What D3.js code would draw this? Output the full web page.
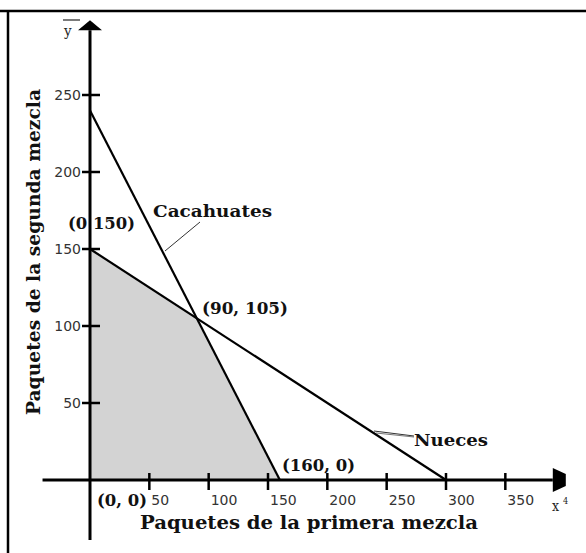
<!DOCTYPE html>
<html><head><meta charset="utf-8">
<script src="https://cdn.jsdelivr.net/npm/d3@7"></script>
<style>body{margin:0;background:#fff}svg{display:block}</style>
</head><body><svg id="c" width="586" height="553"></svg>
<script>
// ---- data ----
const xTicks = [50, 100, 150, 200, 250, 300, 350];
const yTicks = [50, 100, 150, 200, 250];
const cacahuates = [[0, 240], [160, 0]];
const nueces = [[0, 150], [300, 0]];
const feasible = [[0, 0], [0, 150], [90, 105], [160, 0]];
const pointLabels = [
  {text: "(0 150)", at: [0, 150]},
  {text: "(90, 105)", at: [90, 105]},
  {text: "(160, 0)", at: [160, 0]},
  {text: "(0, 0)", at: [0, 0]}
];
const lineNames = ["Cacahuates", "Nueces"];
const xTitle = "Paquetes de la primera mezcla";
const yTitle = "Paquetes de la segunda mezcla";

// ---- scales ----
const x = d3.scaleLinear().domain([0, 300]).range([90, 446]);
const y = d3.scaleLinear().domain([0, 250]).range([480, 95]);
const svg = d3.select("#c");
const serif = "'DejaVu Serif Condensed', 'DejaVu Serif', 'Liberation Serif', serif";

// frame (top and left)
svg.append("line").attr("x1", 0).attr("x2", 586).attr("y1", 11).attr("y2", 11).attr("stroke", "#000").attr("stroke-width", 2.5);
svg.append("line").attr("x1", 8).attr("x2", 8).attr("y1", 10).attr("y2", 553).attr("stroke", "#000").attr("stroke-width", 2.5);

// feasible region
svg.append("path").datum(feasible)
  .attr("d", d3.line().x(d => x(d[0])).y(d => y(d[1])).curve(d3.curveLinearClosed))
  .attr("fill", "#d3d3d3");

// axes lines
const ax = svg.append("g").attr("stroke", "#000");
ax.append("line").attr("x1", x(-40)).attr("x2", x(390)).attr("y1", y(0)).attr("y2", y(0)).attr("stroke-width", 3);
ax.append("line").attr("x1", x(0)).attr("x2", x(0)).attr("y1", y(-39)).attr("y2", y(292)).attr("stroke-width", 3);
// arrows
svg.append("path").attr("d", `M${x(0)-12},${y(292)} L${x(0)+12},${y(292)} L${x(0)},${y(292)-10} Z`).attr("fill", "#000");
svg.append("path").attr("d", `M${x(390)},${y(0)-12} L${x(390)+13},${y(0)-6} L${x(390)+13},${y(0)+6} L${x(390)},${y(0)+12} Z`).attr("fill", "#000");

// ticks
svg.append("g").selectAll("line").data(xTicks).join("line")
  .attr("x1", d => x(d)).attr("x2", d => x(d)).attr("y1", y(0) - 7).attr("y2", y(0) + 10)
  .attr("stroke", "#000").attr("stroke-width", 2.5);
svg.append("g").selectAll("line").data(yTicks).join("line")
  .attr("y1", d => y(d)).attr("y2", d => y(d)).attr("x1", x(0) - 8).attr("x2", x(0) + 10)
  .attr("stroke", "#000").attr("stroke-width", 2.5);

// tick labels
svg.append("g").selectAll("text").data(xTicks).join("text")
  .attr("x", d => x(d) + 2).attr("y", y(0) + 25)
  .attr("font-family", "'DejaVu Sans', sans-serif").attr("font-size", 14).attr("fill", "#333")
  .text(d => d);
svg.append("g").selectAll("text").data(yTicks).join("text")
  .attr("x", x(0) - 9).attr("y", d => y(d) + 5).attr("text-anchor", "end")
  .attr("font-family", "'DejaVu Sans', sans-serif").attr("font-size", 14).attr("fill", "#333")
  .text(d => d);

// constraint lines
const ln = d3.line().x(d => x(d[0])).y(d => y(d[1]));
[cacahuates, nueces].forEach(s => svg.append("path").datum(s).attr("d", ln)
  .attr("fill", "none").attr("stroke", "#000").attr("stroke-width", 2.2));

// leader lines
svg.append("line").attr("x1", 165).attr("y1", 251).attr("x2", 200).attr("y2", 222).attr("stroke", "#333").attr("stroke-width", 1);
svg.append("line").attr("x1", 374).attr("y1", 431).attr("x2", 414).attr("y2", 436).attr("stroke", "#333").attr("stroke-width", 1);
svg.append("line").attr("x1", 376).attr("y1", 433).attr("x2", 414).attr("y2", 437).attr("stroke", "#555").attr("stroke-width", 0.8);

// labels
function lab(t, px, py, w, opts = {}) {
  const e = svg.append("text").attr("x", px).attr("y", py)
    .attr("font-family", serif).attr("font-weight", opts.weight || "bold")
    .attr("font-size", opts.size || 17).attr("fill", "#111").text(t);
  if (w) e.attr("textLength", w).attr("lengthAdjust", "spacingAndGlyphs");
  return e;
}
const pos = [[68, 229, 67], [202, 314, 86], [282, 471, 73], [97, 506, 50]];
pointLabels.forEach((p, i) => lab(p.text, pos[i][0], pos[i][1], pos[i][2]));
lab(lineNames[0], 153, 217, 119);
lab(lineNames[1], 414, 446, 74, {weight: "600"});
lab(xTitle, 140, 529, 338, {size: 18});
lab(yTitle, 0, 0, 326, {size: 18}).attr("transform", "translate(40,415) rotate(-90)");

// axis letters
svg.append("text").attr("x", 64).attr("y", 36).attr("font-family", serif).attr("font-size", 15).attr("fill", "#222").text("y");
svg.append("line").attr("x1", 63).attr("x2", 80).attr("y1", 20).attr("y2", 20).attr("stroke", "#222").attr("stroke-width", 1.2);
svg.append("text").attr("x", 552).attr("y", 511).attr("font-family", serif).attr("font-size", 14).attr("fill", "#222").text("x");
svg.append("text").attr("x", 563).attr("y", 504).attr("font-family", serif).attr("font-size", 9).attr("fill", "#222").text("4");
</script></body></html>
